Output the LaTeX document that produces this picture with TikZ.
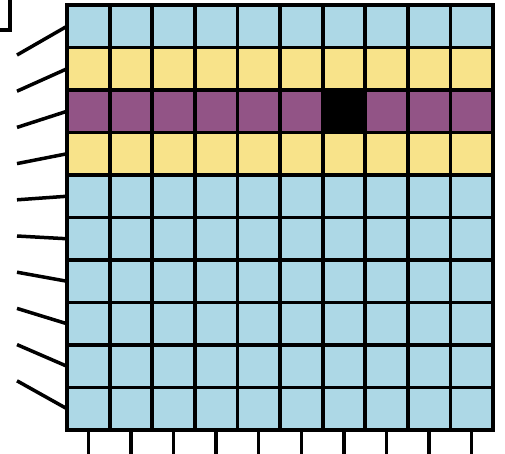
\documentclass[tikz,border=0pt]{standalone}
\usetikzlibrary{calc}
\definecolor{cblue}{HTML}{ADD8E6}
\definecolor{cyel}{HTML}{F8E38A}
\definecolor{cpur}{HTML}{925486}
\begin{document}
\begin{tikzpicture}[x=1pt,y=-1pt,
  cell/.style={draw=black,line width=3.8pt,minimum width=42.6pt,minimum height=42.5pt,
    inner sep=0pt,outer sep=0pt,anchor=north west},
  wire/.style={draw=black,line width=3.5pt}]
\useasboundingbox (0,0) rectangle (505,453);
\foreach \r/\col in {1/cblue,2/cyel,3/cpur,4/cyel,5/cblue,6/cblue,7/cblue,8/cblue,9/cblue,10/cblue}{
  \foreach \c in {1,...,10}{
    \node[cell,fill=\col] (c-\r-\c) at ({67+(\c-1)*42.6},{5+(\r-1)*42.5}) {};
  }
}
\node[cell,fill=black] (hit) at (c-3-7.north west) {};
% left connectors
\foreach \i in {1,...,10}{
  \coordinate (l-\i) at (17,{55+(\i-1)*36.2});
  \draw[wire] (l-\i) -- (c-\i-1.west);
}
% bottom ticks
\foreach \c in {1,...,10}{
  \coordinate (b-\c) at ($(c-10-\c.south)+(0,30)$);
  \draw[wire] (c-10-\c.south) -- (b-\c);
}
% bracket
\coordinate (br1) at (0,30);
\coordinate (br2) at (10,30);
\coordinate (br3) at (10,-3);
\draw[wire,line join=miter] (br1) -- (br2) -- (br3);
\end{tikzpicture}
\end{document}
